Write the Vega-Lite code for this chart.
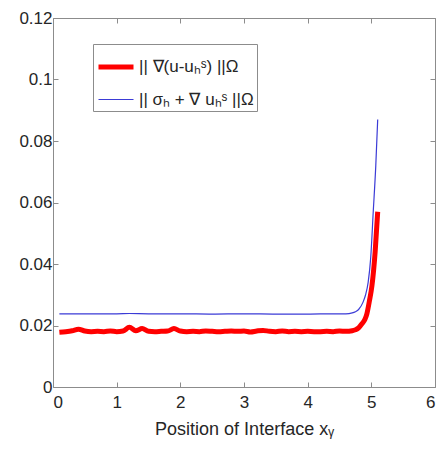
{
  "$schema": "https://vega.github.io/schema/vega-lite/v6.json",
  "width": 442,
  "height": 450,
  "autosize": {"type": "fit", "contains": "padding"},
  "padding": {"left": 18, "top": 9, "right": 6, "bottom": 12},
  "background": "white",
  "config": {
    "font": "Liberation Sans",
    "view": {"stroke": "#8c8c8c", "strokeWidth": 1},
    "axis": {"grid": false, "domain": false, "labelFontSize": 17, "labelColor": "#262626", "tickColor": "#8c8c8c", "tickSize": -5, "titleFontSize": 18, "titleColor": "#262626", "titleFontWeight": "normal"}
  },
  "data": {"values": [
    {"x": 0.1, "v": 0.0178, "s": "|| ∇(u-uₕˢ) ||Ω"},
    {"x": 0.2, "v": 0.018, "s": "|| ∇(u-uₕˢ) ||Ω"},
    {"x": 0.3, "v": 0.0183, "s": "|| ∇(u-uₕˢ) ||Ω"},
    {"x": 0.4, "v": 0.0188, "s": "|| ∇(u-uₕˢ) ||Ω"},
    {"x": 0.5, "v": 0.0182, "s": "|| ∇(u-uₕˢ) ||Ω"},
    {"x": 0.6, "v": 0.018, "s": "|| ∇(u-uₕˢ) ||Ω"},
    {"x": 0.7, "v": 0.0181, "s": "|| ∇(u-uₕˢ) ||Ω"},
    {"x": 0.8, "v": 0.018, "s": "|| ∇(u-uₕˢ) ||Ω"},
    {"x": 0.9, "v": 0.0182, "s": "|| ∇(u-uₕˢ) ||Ω"},
    {"x": 1.0, "v": 0.018, "s": "|| ∇(u-uₕˢ) ||Ω"},
    {"x": 1.1, "v": 0.0182, "s": "|| ∇(u-uₕˢ) ||Ω"},
    {"x": 1.2, "v": 0.0194, "s": "|| ∇(u-uₕˢ) ||Ω"},
    {"x": 1.3, "v": 0.0183, "s": "|| ∇(u-uₕˢ) ||Ω"},
    {"x": 1.4, "v": 0.019, "s": "|| ∇(u-uₕˢ) ||Ω"},
    {"x": 1.5, "v": 0.0181, "s": "|| ∇(u-uₕˢ) ||Ω"},
    {"x": 1.6, "v": 0.018, "s": "|| ∇(u-uₕˢ) ||Ω"},
    {"x": 1.7, "v": 0.0181, "s": "|| ∇(u-uₕˢ) ||Ω"},
    {"x": 1.8, "v": 0.0182, "s": "|| ∇(u-uₕˢ) ||Ω"},
    {"x": 1.9, "v": 0.019, "s": "|| ∇(u-uₕˢ) ||Ω"},
    {"x": 2.0, "v": 0.0182, "s": "|| ∇(u-uₕˢ) ||Ω"},
    {"x": 2.1, "v": 0.018, "s": "|| ∇(u-uₕˢ) ||Ω"},
    {"x": 2.2, "v": 0.0181, "s": "|| ∇(u-uₕˢ) ||Ω"},
    {"x": 2.3, "v": 0.018, "s": "|| ∇(u-uₕˢ) ||Ω"},
    {"x": 2.4, "v": 0.0182, "s": "|| ∇(u-uₕˢ) ||Ω"},
    {"x": 2.5, "v": 0.0181, "s": "|| ∇(u-uₕˢ) ||Ω"},
    {"x": 2.6, "v": 0.018, "s": "|| ∇(u-uₕˢ) ||Ω"},
    {"x": 2.7, "v": 0.0181, "s": "|| ∇(u-uₕˢ) ||Ω"},
    {"x": 2.8, "v": 0.0182, "s": "|| ∇(u-uₕˢ) ||Ω"},
    {"x": 2.9, "v": 0.0181, "s": "|| ∇(u-uₕˢ) ||Ω"},
    {"x": 3.0, "v": 0.0182, "s": "|| ∇(u-uₕˢ) ||Ω"},
    {"x": 3.1, "v": 0.0179, "s": "|| ∇(u-uₕˢ) ||Ω"},
    {"x": 3.2, "v": 0.0182, "s": "|| ∇(u-uₕˢ) ||Ω"},
    {"x": 3.3, "v": 0.0184, "s": "|| ∇(u-uₕˢ) ||Ω"},
    {"x": 3.4, "v": 0.0181, "s": "|| ∇(u-uₕˢ) ||Ω"},
    {"x": 3.5, "v": 0.018, "s": "|| ∇(u-uₕˢ) ||Ω"},
    {"x": 3.6, "v": 0.0182, "s": "|| ∇(u-uₕˢ) ||Ω"},
    {"x": 3.7, "v": 0.018, "s": "|| ∇(u-uₕˢ) ||Ω"},
    {"x": 3.8, "v": 0.0181, "s": "|| ∇(u-uₕˢ) ||Ω"},
    {"x": 3.9, "v": 0.018, "s": "|| ∇(u-uₕˢ) ||Ω"},
    {"x": 4.0, "v": 0.0181, "s": "|| ∇(u-uₕˢ) ||Ω"},
    {"x": 4.1, "v": 0.018, "s": "|| ∇(u-uₕˢ) ||Ω"},
    {"x": 4.2, "v": 0.018, "s": "|| ∇(u-uₕˢ) ||Ω"},
    {"x": 4.3, "v": 0.0181, "s": "|| ∇(u-uₕˢ) ||Ω"},
    {"x": 4.4, "v": 0.018, "s": "|| ∇(u-uₕˢ) ||Ω"},
    {"x": 4.5, "v": 0.0182, "s": "|| ∇(u-uₕˢ) ||Ω"},
    {"x": 4.6, "v": 0.0181, "s": "|| ∇(u-uₕˢ) ||Ω"},
    {"x": 4.7, "v": 0.0183, "s": "|| ∇(u-uₕˢ) ||Ω"},
    {"x": 4.75, "v": 0.0186, "s": "|| ∇(u-uₕˢ) ||Ω"},
    {"x": 4.8, "v": 0.0192, "s": "|| ∇(u-uₕˢ) ||Ω"},
    {"x": 4.85, "v": 0.0205, "s": "|| ∇(u-uₕˢ) ||Ω"},
    {"x": 4.9, "v": 0.022, "s": "|| ∇(u-uₕˢ) ||Ω"},
    {"x": 4.93, "v": 0.0238, "s": "|| ∇(u-uₕˢ) ||Ω"},
    {"x": 4.97, "v": 0.028, "s": "|| ∇(u-uₕˢ) ||Ω"},
    {"x": 5.01, "v": 0.033, "s": "|| ∇(u-uₕˢ) ||Ω"},
    {"x": 5.06, "v": 0.044, "s": "|| ∇(u-uₕˢ) ||Ω"},
    {"x": 5.1, "v": 0.057, "s": "|| ∇(u-uₕˢ) ||Ω"},
    {"x": 0.1, "v": 0.0238, "s": "|| σₕ + ∇ uₕˢ ||Ω"},
    {"x": 0.5, "v": 0.0238, "s": "|| σₕ + ∇ uₕˢ ||Ω"},
    {"x": 1.0, "v": 0.0238, "s": "|| σₕ + ∇ uₕˢ ||Ω"},
    {"x": 1.2, "v": 0.0239, "s": "|| σₕ + ∇ uₕˢ ||Ω"},
    {"x": 1.5, "v": 0.0238, "s": "|| σₕ + ∇ uₕˢ ||Ω"},
    {"x": 2.0, "v": 0.0238, "s": "|| σₕ + ∇ uₕˢ ||Ω"},
    {"x": 2.5, "v": 0.0237, "s": "|| σₕ + ∇ uₕˢ ||Ω"},
    {"x": 3.0, "v": 0.0238, "s": "|| σₕ + ∇ uₕˢ ||Ω"},
    {"x": 3.5, "v": 0.0237, "s": "|| σₕ + ∇ uₕˢ ||Ω"},
    {"x": 4.0, "v": 0.0237, "s": "|| σₕ + ∇ uₕˢ ||Ω"},
    {"x": 4.4, "v": 0.0238, "s": "|| σₕ + ∇ uₕˢ ||Ω"},
    {"x": 4.6, "v": 0.0238, "s": "|| σₕ + ∇ uₕˢ ||Ω"},
    {"x": 4.7, "v": 0.0241, "s": "|| σₕ + ∇ uₕˢ ||Ω"},
    {"x": 4.75, "v": 0.0245, "s": "|| σₕ + ∇ uₕˢ ||Ω"},
    {"x": 4.8, "v": 0.0252, "s": "|| σₕ + ∇ uₕˢ ||Ω"},
    {"x": 4.87, "v": 0.0276, "s": "|| σₕ + ∇ uₕˢ ||Ω"},
    {"x": 4.91, "v": 0.030, "s": "|| σₕ + ∇ uₕˢ ||Ω"},
    {"x": 4.95, "v": 0.034, "s": "|| σₕ + ∇ uₕˢ ||Ω"},
    {"x": 4.99, "v": 0.042, "s": "|| σₕ + ∇ uₕˢ ||Ω"},
    {"x": 5.03, "v": 0.057, "s": "|| σₕ + ∇ uₕˢ ||Ω"},
    {"x": 5.07, "v": 0.072, "s": "|| σₕ + ∇ uₕˢ ||Ω"},
    {"x": 5.1, "v": 0.087, "s": "|| σₕ + ∇ uₕˢ ||Ω"}
  ]},
  "layer": [
    {
      "mark": {"type": "line", "strokeCap": "butt", "interpolate": "monotone"},
      "encoding": {
        "x": {"field": "x", "type": "quantitative", "scale": {"domain": [0, 6]}, "axis": {"values": [0,1,2,3,4,5,6], "title": "Position of Interface xᵧ", "labelPadding": 12, "titlePadding": 10}},
        "y": {"field": "v", "type": "quantitative", "scale": {"domain": [0, 0.12]}, "axis": {"values": [0,0.02,0.04,0.06,0.08,0.1,0.12], "title": null, "labelPadding": 6, "labelExpr": "datum.value == 0 ? '0' : format(datum.value, '.2~f')"}},
        "color": {"field": "s", "type": "nominal", "scale": {"domain": ["|| ∇(u-uₕˢ) ||Ω", "|| σₕ + ∇ uₕˢ ||Ω"], "range": ["#ff0000", "#3b3bd6"]},
          "legend": {"title": null, "orient": "none", "legendX": 40, "legendY": 26, "symbolType": "stroke", "symbolSize": 1225, "labelFontSize": 17, "labelColor": "#262626", "strokeColor": "#8c8c8c", "fillColor": "white", "padding": 3, "rowPadding": 4, "labelOffset": 3}},
        "strokeWidth": {"field": "s", "type": "nominal", "scale": {"domain": ["|| ∇(u-uₕˢ) ||Ω", "|| σₕ + ∇ uₕˢ ||Ω"], "range": [5, 1.2]},
          "legend": {"title": null, "orient": "none", "legendX": 40, "legendY": 26, "symbolType": "stroke", "symbolSize": 1225, "labelFontSize": 17, "labelColor": "#262626", "strokeColor": "#8c8c8c", "fillColor": "white", "padding": 3, "rowPadding": 4, "labelOffset": 3}}
      }
    },
    {
      "mark": {"type": "point", "opacity": 0},
      "encoding": {
        "x": {"field": "x", "type": "quantitative", "axis": {"orient": "top", "values": [0,1,2,3,4,5,6], "labels": false, "title": null, "minExtent": 0, "maxExtent": 0}},
        "y": {"field": "v", "type": "quantitative", "axis": {"orient": "right", "values": [0,0.02,0.04,0.06,0.08,0.1,0.12], "labels": false, "title": null, "minExtent": 0, "maxExtent": 0}}
      }
    }
  ],
  "resolve": {"axis": {"x": "independent", "y": "independent"}}
}
